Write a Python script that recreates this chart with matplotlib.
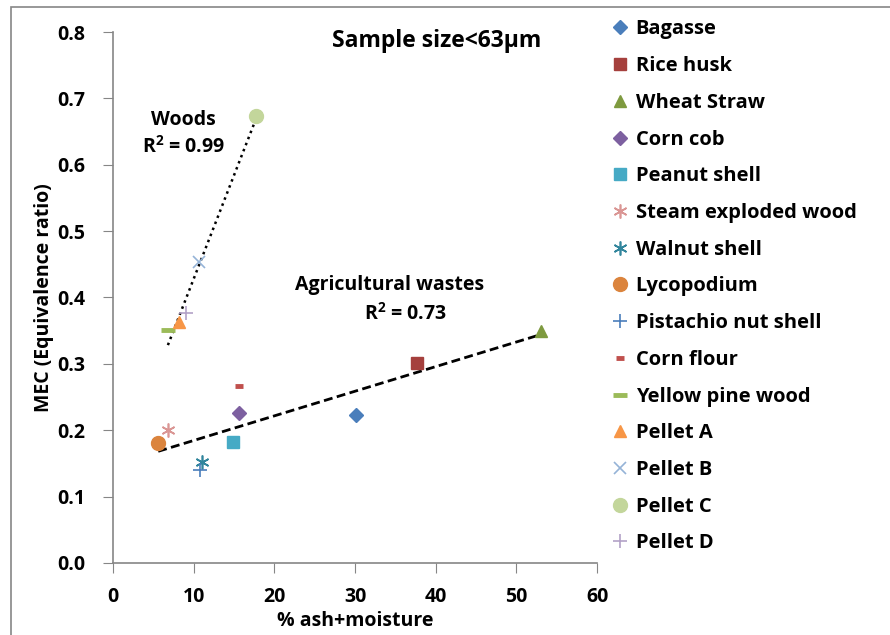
import numpy as np
import matplotlib.pyplot as plt
from matplotlib.patches import Rectangle

plt.rcParams['font.family'] = ['Open Sans', 'DejaVu Sans']
plt.rcParams['font.weight'] = 'bold'
plt.rcParams['mathtext.fontset'] = 'custom'
plt.rcParams['mathtext.bf'] = 'Open Sans:bold'

# data
names = ["Bagasse", "Rice husk", "Wheat Straw", "Corn cob", "Peanut shell",
         "Steam exploded wood", "Walnut shell", "Lycopodium", "Pistachio nut shell",
         "Corn flour", "Yellow pine wood", "Pellet A", "Pellet B", "Pellet C", "Pellet D"]
ash_moist = [30.1, 37.7, 53.0, 15.6, 14.9, 6.8, 11.0, 5.6, 10.8, 15.6, 6.8, 8.2, 10.7, 17.7, 9.0]
mec = [0.223, 0.301, 0.349, 0.226, 0.182, 0.200, 0.152, 0.181, 0.140, 0.267, 0.351, 0.363, 0.453, 0.673, 0.376]
groups = ["agri"] * 10 + ["wood"] * 5

styles = [
    dict(marker="D", color="#4A7EBB", ms=7),
    dict(marker="s", color="#A5403D", ms=9),
    dict(marker="^", color="#7E9A3F", ms=9),
    dict(marker="D", color="#7D60A0", ms=7),
    dict(marker="s", color="#46AAC5", ms=9),
    dict(marker=(6, 2, 0), color="#DA9694", ms=10, mew=1.2),
    dict(marker=(6, 2, 0), color="#31859C", ms=10, mew=1.2),
    dict(marker="o", color="#DB843D", ms=10),
    dict(marker="+", color="#4A7EBB", ms=10, mew=1.2),
    dict(marker="_", color="#C0504D", ms=6, mew=3.5),
    dict(marker="_", color="#9BBB59", ms=10, mew=3.5),
    dict(marker="^", color="#F79646", ms=9),
    dict(marker="x", color="#95B3D7", ms=9, mew=1.2),
    dict(marker="o", color="#C3D69B", ms=10),
    dict(marker="+", color="#B3A2C7", ms=10, mew=1.2),
]

fs = 14

fig = plt.figure(figsize=(8.9, 6.35), dpi=100)
ax = fig.add_axes([0.127, 0.1134, 0.544, 0.8362])

handles = []
for n, x, y, st in zip(names, ash_moist, mec, styles):
    h, = ax.plot([x], [y], linestyle="none", marker=st["marker"], color=st["color"],
                 markersize=st["ms"], markeredgewidth=st.get("mew", 1.0), label=n)
    handles.append(h)

# trendlines
x = np.array(ash_moist)
y = np.array(mec)
g = np.array(groups)
for grp, ls in [("agri", (0, (3.2, 1.6))), ("wood", (0, (1, 1.6)))]:
    m = g == grp
    k, b = np.polyfit(x[m], y[m], 1)
    xs = np.array([x[m].min(), x[m].max()])
    ax.plot(xs, k * xs + b, color="black", linestyle=ls, linewidth=2 if grp == "agri" else 1.8,
            zorder=1)

ax.set_xlim(0, 60)
ax.set_ylim(0, 0.8)
ax.set_xticks(np.arange(0, 61, 10))
ax.set_yticks(np.arange(0, 0.81, 0.1))
ax.set_yticklabels([f"{v:.1f}" for v in np.arange(0, 0.81, 0.1)])
for s in ["top", "right"]:
    ax.spines[s].set_visible(False)
for s in ["left", "bottom"]:
    ax.spines[s].set_color("#868686")
    ax.spines[s].set_linewidth(1.2)
ax.tick_params(direction="out", length=7, color="#868686", labelsize=fs)
ax.tick_params(axis="y", pad=13)
ax.tick_params(axis="x", pad=10)
for lab in ax.get_xticklabels() + ax.get_yticklabels():
    lab.set_fontweight("bold")
ax.set_xlabel("% ash+moisture", fontsize=fs, fontweight="bold", labelpad=3)
ax.set_ylabel("MEC (Equivalence ratio)", fontsize=fs, fontweight="bold", labelpad=2)

ax.text(40.1, 0.786, "Sample size<63µm", ha="center", va="center", fontsize=16.5, fontweight="bold")
ax.text(8.7, 0.667, "Woods", ha="center", va="center", fontsize=fs, fontweight="bold")
ax.text(8.7, 0.627, "R$^\\mathbf{2}$ = 0.99", ha="center", va="center", fontsize=fs, fontweight="bold")
ax.text(34.3, 0.419, "Agricultural wastes", ha="center", va="center", fontsize=fs, fontweight="bold")
ax.text(36.2, 0.375, "R$^\\mathbf{2}$ = 0.73", ha="center", va="center", fontsize=fs, fontweight="bold")

fig.legend(handles=handles, loc="upper left", bbox_to_anchor=(0.679, 0.982), frameon=False,
           prop=dict(size=14.5, weight="bold"), labelspacing=0.83, handlelength=0.8,
           handletextpad=0.35, borderaxespad=0)

fig.add_artist(Rectangle((11 / 890, -0.05), 1.1, 1 - 7 / 635 + 0.05, transform=fig.transFigure,
                         fill=False, edgecolor="#868686", linewidth=1.2))

fig.savefig("out.png", dpi=100)
